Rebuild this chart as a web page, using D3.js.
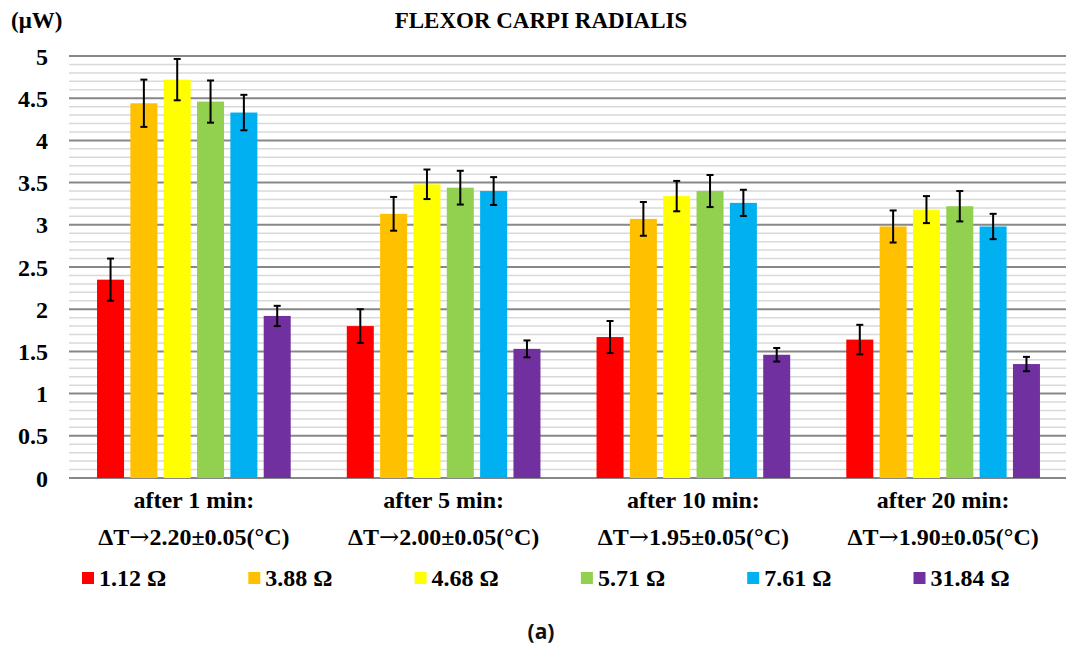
<!DOCTYPE html>
<html>
<head>
<meta charset="utf-8">
<script src="https://cdn.jsdelivr.net/npm/d3@7"></script>
<style>
  html, body { margin: 0; padding: 0; background: #fff; }
  svg { display: block; }
</style>
</head>
<body>
<svg id="chart" width="1066" height="648"></svg>
<script>
// Time points after stimulation: [period, temperature rise before, arrow, after]
const categoryTitles = ["after 1 min:", "after 5 min:", "after 10 min:", "after 20 min:"];
const categoryDeltas = ["2.20\u00b10.05(\u00b0C)", "2.00\u00b10.05(\u00b0C)", "1.95\u00b10.05(\u00b0C)", "1.90\u00b10.05(\u00b0C)"];

// Load resistances
const seriesNames = ["1.12 \u03a9", "3.88 \u03a9", "4.68 \u03a9", "5.71 \u03a9", "7.61 \u03a9", "31.84 \u03a9"];
const seriesColors = ["#ff0000", "#ffc000", "#ffff00", "#92d050", "#00b0f0", "#7030a0"];

// Harvested power (µW) per resistance, one value per time point
const power112  = [2.35, 1.80, 1.67, 1.64];
const power388  = [4.44, 3.13, 3.07, 2.98];
const power468  = [4.72, 3.48, 3.34, 3.18];
const power571  = [4.46, 3.44, 3.40, 3.22];
const power761  = [4.33, 3.40, 3.26, 2.98];
const power3184 = [1.92, 1.53, 1.46, 1.35];

// Standard deviations (µW)
const err112  = [0.25, 0.20, 0.19, 0.175];
const err388  = [0.28, 0.20, 0.20, 0.19];
const err468  = [0.245, 0.175, 0.18, 0.16];
const err571  = [0.25, 0.20, 0.19, 0.18];
const err761  = [0.21, 0.165, 0.155, 0.15];
const err3184 = [0.12, 0.10, 0.08, 0.085];

const yTicks = [0, 0.5, 1, 1.5, 2, 2.5, 3, 3.5, 4, 4.5, 5];
const yTickLabels = ["0", "0.5", "1", "1.5", "2", "2.5", "3", "3.5", "4", "4.5", "5"];

const allValues = [power112, power388, power468, power571, power761, power3184];
const allErrors = [err112, err388, err468, err571, err761, err3184];

const SERIF = "'Liberation Serif', 'Times New Roman', 'DejaVu Serif', serif";
function serif(sel, size) {
  return sel.style("font-family", SERIF).style("font-weight", "bold")
    .style("font-size", size + "px").attr("fill", "#000");
}

const svg = d3.select("#chart");

const plot = { left: 69, right: 1068, top: 56, bottom: 478 };

const x = d3.scaleBand()
  .domain(d3.range(categoryTitles.length))
  .range([plot.left, plot.right])
  .padding(0);

const xInner = d3.scaleBand()
  .domain(d3.range(seriesNames.length))
  .range([-100, 100])
  .paddingInner(0.19)
  .paddingOuter(0.095);

const y = d3.scaleLinear().domain([0, 5]).range([plot.bottom, plot.top]);

// Minor gridlines every 0.1
const minor = d3.range(1, 51).map(i => i / 10).filter(v => Math.round(v * 10) % 5 !== 0);
svg.append("g").selectAll("line").data(minor).join("line")
  .attr("x1", plot.left).attr("x2", 1066)
  .attr("y1", d => y(d)).attr("y2", d => y(d))
  .attr("stroke", "#d9d9d9").attr("stroke-width", 1.5);

// Major gridlines every 0.5
svg.append("g").selectAll("line").data(yTicks).join("line")
  .attr("x1", plot.left).attr("x2", 1066)
  .attr("y1", d => y(d)).attr("y2", d => y(d))
  .attr("stroke", "#878787").attr("stroke-width", 2);

// Y axis labels
const yAxis = d3.axisLeft(y).tickValues(yTicks)
  .tickFormat((d, i) => yTickLabels[i]).tickSize(0).tickPadding(0);
const yg = svg.append("g").attr("transform", `translate(48,0)`).call(yAxis);
yg.select(".domain").remove();
yg.attr("font-family", null).attr("font-size", null);
serif(yg.selectAll("text"), 24).attr("dy", "0.34em");

// Bars with error bars
const groups = svg.append("g").selectAll("g").data(categoryTitles).join("g")
  .attr("transform", (d, i) => `translate(${x(i) + x.bandwidth() / 2},0)`);

groups.each(function(cat, ci) {
  const g = d3.select(this);
  seriesNames.forEach((name, si) => {
    const v = allValues[si][ci];
    const e = allErrors[si][ci];
    const bx = xInner(si);
    const bw = xInner.bandwidth();
    g.append("rect")
      .attr("x", bx).attr("width", bw)
      .attr("y", y(v)).attr("height", y(0) - y(v))
      .attr("fill", seriesColors[si]);
    const cx = bx + bw / 2;
    const eb = g.append("g").attr("stroke", "#000").attr("stroke-width", 2);
    eb.append("line").attr("x1", cx).attr("x2", cx).attr("y1", y(v + e)).attr("y2", y(v - e));
    eb.append("line").attr("x1", cx - 3.5).attr("x2", cx + 3.5).attr("y1", y(v + e)).attr("y2", y(v + e));
    eb.append("line").attr("x1", cx - 3.5).attr("x2", cx + 3.5).attr("y1", y(v - e)).attr("y2", y(v - e));
  });
});

// Category labels (two lines)
const catG = svg.append("g");
categoryTitles.forEach((title, i) => {
  const cx = x(i) + x.bandwidth() / 2;
  serif(catG.append("text"), 24).attr("text-anchor", "middle")
    .attr("x", cx).attr("y", 508).text(title);
  const t2 = serif(catG.append("text"), 24).attr("text-anchor", "middle")
    .attr("x", cx).attr("y", 545);
  t2.append("tspan").text("\u0394T");
  t2.append("tspan").style("font-family", "'DejaVu Serif', serif").style("font-weight", "normal")
    .text("\u2192");
  t2.append("tspan").text(categoryDeltas[i]);
});

// Title and unit
serif(svg.append("text"), 23).attr("x", 541).attr("y", 28)
  .attr("text-anchor", "middle").text("FLEXOR CARPI RADIALIS");
serif(svg.append("text"), 23).attr("x", 11).attr("y", 28).text("(\u03bcW)");

// Legend
const legend = svg.append("g");
seriesNames.forEach((name, i) => {
  const lx = 82 + i * 166.3;
  legend.append("rect").attr("x", lx).attr("y", 572).attr("width", 12).attr("height", 12)
    .attr("fill", seriesColors[i]);
  serif(legend.append("text"), 24).attr("x", lx + 17).attr("y", 586).text(name);
});

// Panel label
svg.append("text").attr("x", 541).attr("y", 639).attr("text-anchor", "middle")
  .style("font-family", "'Open Sans', 'Noto Sans', sans-serif").style("font-weight", "bold")
  .style("font-size", "21px").attr("fill", "#111").text("(a)");
</script>
</body>
</html>
